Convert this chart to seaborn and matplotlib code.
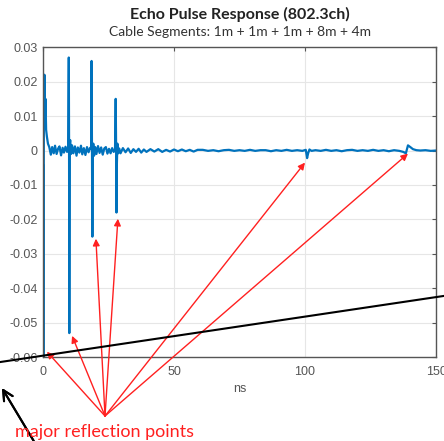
import numpy as np
import pandas as pd
import seaborn as sns
import matplotlib.pyplot as plt

# echo trace (time in ns, amplitude)
t_spike1 = [0.0, 0.15, 0.35, 0.55, 0.75, 0.95, 1.2, 1.5, 1.9, 2.4]
y_spike1 = [-0.004, -0.062, 0.012, 0.022, 0.010, 0.015, 0.006, 0.004, 0.002, 0.001]

t_noise1 = [3.0, 3.5, 4.1, 4.6, 5.2, 5.8, 6.3, 6.9, 7.5, 8.0, 8.6, 9.2]
y_noise1 = [-0.0012, 0.0010, -0.0008, 0.0014, -0.0010, 0.0006, 0.0012, -0.0014, 0.0008, -0.0006, 0.0011, -0.0004]

t_spike2 = [9.6, 9.75, 9.85, 9.95, 10.05, 10.2, 10.4, 10.7, 11.1]
y_spike2 = [0.0010, 0.018, 0.027, 0.004, -0.053, 0.002, 0.003, -0.001, 0.0015]

t_noise2 = [11.6, 12.2, 12.8, 13.3, 13.9, 14.5, 15.0, 15.6, 16.2, 16.8, 17.4, 18.0]
y_noise2 = [-0.0008, 0.0012, -0.0015, 0.0009, -0.0006, 0.0014, -0.0011, 0.0007, -0.0013, 0.0010, -0.0005, 0.0008]

t_spike3 = [18.4, 18.55, 18.7, 18.85, 19.0, 19.2, 19.5, 19.9]
y_spike3 = [0.0005, 0.026, 0.003, -0.025, -0.002, 0.002, -0.0015, 0.0010]

t_noise3 = [20.4, 21.0, 21.6, 22.2, 22.8, 23.4, 24.0, 24.6, 25.2, 25.8, 26.4, 27.0, 27.5]
y_noise3 = [-0.0010, 0.0013, -0.0007, 0.0009, -0.0012, 0.0006, 0.0010, -0.0009, 0.0005, -0.0008, 0.0007, -0.0004, 0.0003]

t_spike4 = [27.75, 27.9, 28.05, 28.2, 28.4, 28.7, 29.1]
y_spike4 = [0.015, 0.002, -0.018, -0.004, 0.002, -0.0008, 0.0006]

t_noise4 = [29.6, 30.5, 31.5, 32.5, 33.5, 34.5, 35.5, 36.5, 37.5, 38.5, 39.5, 41, 42.5, 44,
            45.5, 47, 48.5, 50, 51.5, 53, 54.5, 56, 57.5, 59]
y_noise4 = [-0.0008, 0.0007, -0.0005, 0.0006, -0.0007, 0.0004, -0.0004, 0.0005, -0.0006, 0.0003,
            -0.0004, 0.0004, -0.0003, 0.0004, -0.0004, 0.0002, -0.0003, 0.0003, -0.0002, 0.0003,
            -0.0002, 0.0002, -0.0003, 0.0002]

t_noise5 = [61, 63, 65, 67, 69, 71, 73, 75, 77, 79, 81, 83, 85, 87, 89, 91, 93, 95, 97, 99]
y_noise5 = [0.0002, -0.0001, 0.0001, -0.0002, 0.0001, 0.0002, -0.0001, 0.0001, -0.0001, 0.0002,
            -0.0001, 0.0001, 0.0001, -0.0002, 0.0001, -0.0001, 0.0002, -0.0001, 0.0001, -0.0001]

t_dip = [100.3, 100.8, 101.2, 101.7, 102.5]
y_dip = [0.0002, -0.0022, -0.0008, 0.0003, -0.0001]

t_noise6 = [104, 106, 108, 110, 112, 114, 116, 118, 120, 122, 124, 126, 128, 130, 132, 134, 136, 137.5]
y_noise6 = [0.0001, -0.0001, 0.0002, -0.0001, 0.0001, -0.0002, 0.0001, 0.0002, -0.0001, 0.0001,
            -0.0001, 0.0002, -0.0001, 0.0001, -0.0002, 0.0001, -0.0001, -0.0004]

t_bump = [138.5, 139.3, 140.2, 141.2, 142.5, 144, 146, 148, 150]
y_bump = [-0.0008, 0.0015, 0.0010, 0.0004, 0.0001, 0.0, 0.0001, -0.0001, 0.0]

# arrow tips (ns, amplitude) for the reflection points
tip_t = [1.5, 11.1, 20.2, 28.6, 100.0, 139.3]
tip_y = [-0.0584, -0.0538, -0.0256, -0.0198, -0.0035, -0.0009]

time_ns = t_spike1 + t_noise1 + t_spike2 + t_noise2 + t_spike3 + t_noise3 + t_spike4 + t_noise4 + t_noise5 + t_dip + t_noise6 + t_bump
amplitude = y_spike1 + y_noise1 + y_spike2 + y_noise2 + y_spike3 + y_noise3 + y_spike4 + y_noise4 + y_noise5 + y_dip + y_noise6 + y_bump
df = pd.DataFrame({"ns": time_ns, "amp": amplitude})

sns.set_style("white")
plt.rcParams["font.family"] = ["Liberation Sans", "DejaVu Sans"]

fig = plt.figure(figsize=(4.44, 4.41), dpi=100)
ax = fig.add_axes([0.0968, 0.190, 0.8852, 0.703])

sns.lineplot(data=df, x="ns", y="amp", ax=ax, color="#0072BD", lw=1.6,
             estimator=None, sort=False)

ax.set_xlim(0, 150)
ax.set_ylim(-0.06, 0.03)
ax.set_xticks([0, 50, 100, 150])
ax.set_xticklabels(["0", "50", "100", "150"])
ax.set_yticks(np.arange(-0.06, 0.031, 0.01))
ax.set_yticklabels(["-0.06", "-0.05", "-0.04", "-0.03", "-0.02", "-0.01", "0", "0.01", "0.02", "0.03"])
ax.grid(True, color="#e6e6e6", lw=0.8)
ax.tick_params(direction="in", length=3, width=0.8, color="#555555", labelsize=9,
               labelcolor="#555555", top=True, right=True, pad=4)
ax.tick_params(axis="x", pad=6)
for s in ax.spines.values():
    s.set_color("#555555")
    s.set_linewidth(1.0)
ax.set_xlabel("ns", fontsize=9, color="#555555", labelpad=4)
ax.set_ylabel("")

fig.text(0.54, 0.968, "Echo Pulse Response (802.3ch)", ha="center", va="center",
         fontsize=11.5, fontweight="bold", family=["Lato", "DejaVu Sans"], color="#222222")
fig.text(0.54, 0.927, "Cable Segments: 1m + 1m + 1m + 8m + 4m", ha="center", va="center",
         fontsize=10, family=["Lato", "DejaVu Sans"], color="#333333")

# red arrows from one label point to each reflection
for tt, yy in zip(tip_t, tip_y):
    ax.annotate("", xy=(tt, yy), xycoords="data", xytext=(0.2365, 0.0567),
                textcoords="figure fraction", annotation_clip=False,
                arrowprops=dict(arrowstyle="-|>", color="#ff2020", lw=1.0,
                                mutation_scale=10, shrinkA=0, shrinkB=0))
fig.text(0.034, 0.021, "major reflection points", ha="left", va="center", fontsize=13,
         family=["Lato", "DejaVu Sans"], color="#ff2020")

# black overlay lines
fig.add_artist(plt.Line2D([0, 1], [0.179, 0.329], color="black", lw=1.5,
                          transform=fig.transFigure))
fig.add_artist(plt.annotate("", xy=(0.0045, 0.12), xycoords="figure fraction",
                            xytext=(0.076, 0.0), textcoords="figure fraction",
                            arrowprops=dict(arrowstyle="->", color="black", lw=1.5,
                                            mutation_scale=18, shrinkA=0, shrinkB=0)))

fig.savefig("out.png", dpi=100)
